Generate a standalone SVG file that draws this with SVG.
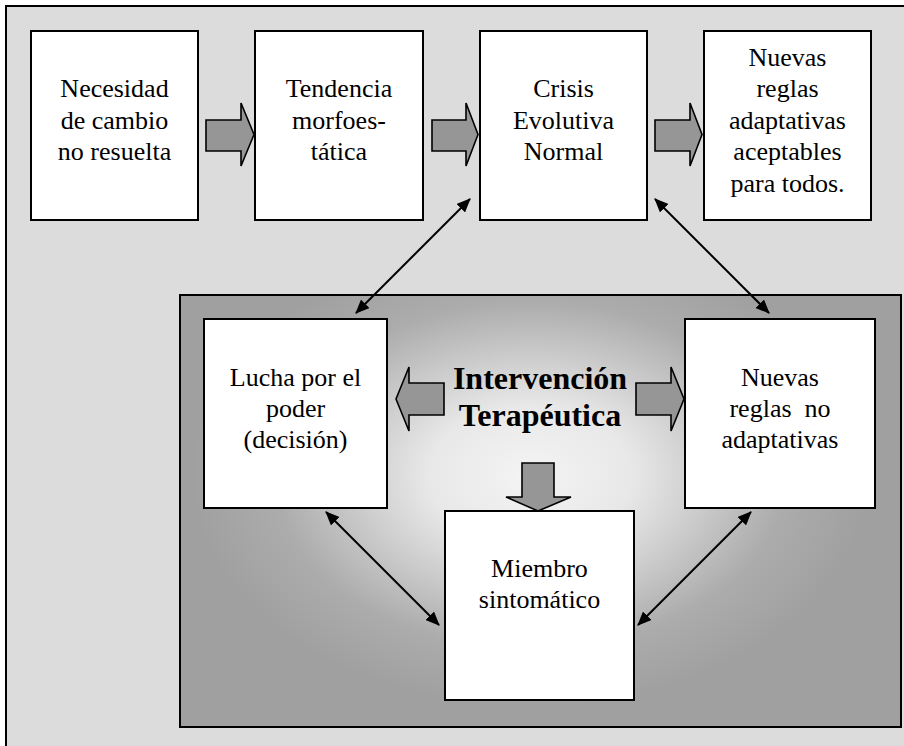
<svg xmlns="http://www.w3.org/2000/svg" width="904" height="746" viewBox="0 0 904 746">
<defs>
<style>
.box{fill:#fff;stroke:#000;stroke-width:2}
.blk{fill:#969696;stroke:#000;stroke-width:1.6;stroke-linejoin:miter}
.t{font-family:"Liberation Serif","Times New Roman",serif;font-size:26px;fill:#000;text-anchor:middle}
.b{font-family:"Liberation Serif","Times New Roman",serif;font-size:32px;font-weight:bold;fill:#000;text-anchor:middle}
.con{stroke:#000;stroke-width:2;fill:none;marker-start:url(#ah);marker-end:url(#ah)}
</style>
<marker id="ah" viewBox="0 0 14 12" refX="13" refY="6" markerWidth="14" markerHeight="12" markerUnits="userSpaceOnUse" orient="auto-start-reverse">
<path d="M0,0 L14,6 L0,12 z" fill="#000"/>
</marker>
<radialGradient id="g" gradientUnits="userSpaceOnUse" cx="530" cy="475" r="340" gradientTransform="translate(530 475) scale(1 0.68) translate(-530 -475)">
<stop offset="0" stop-color="#f4f4f4"/>
<stop offset="0.3" stop-color="#e8e8e8"/>
<stop offset="0.75" stop-color="#acacac"/>
<stop offset="1" stop-color="#a0a0a0"/>
</radialGradient>
</defs>
<rect x="0" y="0" width="904" height="746" fill="#fff"/>
<rect id="frame" x="6" y="6" width="912" height="760" fill="#dcdcdc" stroke="#000" stroke-width="2"/>
<rect id="inner" x="180" y="295" width="721" height="432" fill="url(#g)" stroke="#000" stroke-width="2"/>

<g id="n1"><rect class="box" x="31" y="31" width="167" height="189"/>
<text class="t" x="114.5" y="97">Necesidad</text><text class="t" x="114.5" y="128.5">de cambio</text><text class="t" x="114.5" y="160">no resuelta</text></g>
<g id="n2"><rect class="box" x="255" y="31" width="168" height="189"/>
<text class="t" x="339" y="97">Tendencia</text><text class="t" x="339" y="128.5">morfoes-</text><text class="t" x="339" y="160">tática</text></g>
<g id="n3"><rect class="box" x="480" y="31" width="167" height="189"/>
<text class="t" x="563.5" y="97">Crisis</text><text class="t" x="563.5" y="128.5">Evolutiva</text><text class="t" x="563.5" y="160">Normal</text></g>
<g id="n4"><rect class="box" x="704" y="31" width="167" height="189"/>
<text class="t" x="787.5" y="65.5">Nuevas</text><text class="t" x="787.5" y="97">reglas</text><text class="t" x="787.5" y="128.5">adaptativas</text><text class="t" x="787.5" y="160">aceptables</text><text class="t" x="787.5" y="191.5">para todos.</text></g>

<g id="n5"><rect class="box" x="204" y="319" width="183" height="189"/>
<text class="t" x="295.5" y="386">Lucha por el</text><text class="t" x="295.5" y="417">poder</text><text class="t" x="295.5" y="448">(decisión)</text></g>
<g id="n6"><rect class="box" x="685" y="319" width="190" height="189"/>
<text class="t" x="780" y="386">Nuevas</text><text class="t" x="780" y="417" xml:space="preserve">reglas  no</text><text class="t" x="780" y="448">adaptativas</text></g>
<g id="n7"><rect class="box" x="445" y="511" width="189" height="189"/>
<text class="t" x="539.5" y="577">Miembro</text><text class="t" x="539.5" y="608">sintomático</text></g>
<g id="n8"><text class="b" x="540" y="389">Intervención</text><text class="b" x="540" y="426">Terapéutica</text></g>

<g id="connectors">
<polygon class="blk" points="206,120 241,120 241,103 254,134.5 241,166 241,151 206,151"/>
<polygon class="blk" points="432,120 466,120 466,103 478,134.5 466,166 466,151 432,151"/>
<polygon class="blk" points="655,120 690,120 690,103 702,134.5 690,166 690,151 655,151"/>
<polygon class="blk" points="444,383 409,383 409,367 396,399 409,431 409,415 444,415"/>
<polygon class="blk" points="636,383 671,383 671,367 684,399 671,431 671,415 636,415"/>
<polygon class="blk" points="522,463 554,463 554,497 571,497 538,511 506,497 522,497"/>
<line class="con" x1="470" y1="199" x2="356" y2="313"/>
<line class="con" x1="655" y1="199" x2="769" y2="313"/>
<line class="con" x1="326" y1="512" x2="439" y2="625"/>
<line class="con" x1="751" y1="512" x2="638" y2="625"/>
</g>
</svg>
